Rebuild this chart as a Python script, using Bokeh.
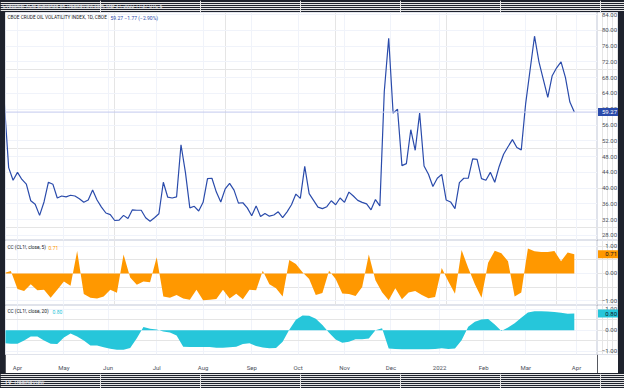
import numpy as np
import pandas as pd
from bokeh.plotting import figure
from bokeh.layouts import column, row
from bokeh.models import (Range1d, FixedTicker, Grid, Label, Span,
                          GlobalInlineStyleSheet)
from bokeh.core.properties import value
from bokeh.embed import file_html
from bokeh.resources import INLINE

# ---------------- data ----------------
SESSION_START = "2021-03-24"
SESSION_END = "2022-04-01"
HOLIDAYS = ["2021-04-02", "2021-05-31", "2021-07-05", "2021-09-06",
            "2021-11-25", "2021-12-24", "2022-01-17", "2022-02-21"]
LAST_DATE = "2022-03-31"
OVX_STEP = 2     # one reading every 2 sessions
CC_STEP = 3      # one reading every 3 sessions

ovx_values = [
    62.0, 45.2, 42.0, 44.0, 42.2, 41.0, 36.8, 35.9, 33.1, 36.5,
    41.5, 41.0, 37.5, 38.0, 37.8, 38.2, 38.0, 37.3, 36.4, 37.0,
    39.5, 37.0, 35.2, 33.7, 33.3, 31.8, 31.9, 33.1, 32.3, 34.5,
    34.4, 34.4, 32.5, 31.6, 32.5, 33.5, 41.5, 37.7, 37.5, 37.8,
    51.0, 44.0, 35.0, 35.4, 34.2, 36.4, 42.4, 42.5, 39.0, 36.5,
    39.8, 41.2, 39.5, 36.2, 36.3, 35.0, 33.0, 35.5, 32.8, 33.6,
    32.9, 33.2, 34.0, 32.5, 34.0, 35.8, 38.5, 37.4, 45.5, 38.6,
    36.9, 35.2, 34.8, 35.3, 36.8, 35.8, 37.5, 36.4, 39.0, 38.0,
    36.9, 36.4, 36.0, 34.5, 37.1, 35.5, 64.5, 78.0, 59.0, 60.0,
    45.7, 46.2, 54.8, 49.6, 59.0, 45.6, 43.5, 40.4, 42.5, 43.5,
    37.0, 36.5, 34.8, 41.4, 42.5, 42.5, 47.4, 47.3, 42.4, 42.0,
    44.0, 41.5, 45.5, 48.6, 50.5, 52.3, 50.3, 49.7, 61.5, 70.0,
    78.5, 72.0, 67.5, 63.0, 68.5, 70.5, 72.0, 68.0, 61.8, 59.27,
]

cc5_values = [
    0.02, 0.09, -0.57, -0.65, -0.40, -0.62, -0.60, -0.90, -0.60, -0.30,
    -0.45, 0.83, -0.76, -0.90, -0.93, -0.85, -0.60, -0.71, 0.70, -0.15,
    -0.42, -0.30, -0.32, 0.60, -0.85, -0.90, -0.80, -0.93, -0.97, -0.60,
    -0.99, -0.97, -0.94, -0.60, -0.93, -0.75, -0.95, -0.60, -0.62, 0.10,
    -0.40, -0.55, -0.85, 0.50, 0.35, 0.05, -0.20, -0.80, -0.72, 0.10,
    -0.20, -0.74, -0.76, -0.83, -0.50, 0.70, -0.25, -0.69, -0.99, -0.55,
    -0.95, -0.70, -0.65, -0.80, -0.92, -0.87, 0.20, -0.30, -0.75, 0.87,
    0.20, -0.40, -0.90, 0.40, 0.84, 0.75, 0.45, -0.85, -0.70, 0.93,
    0.82, 0.80, 0.80, 0.83, 0.45, 0.78, 0.71,
]

cc20_values = [
    -0.63, -0.65, -0.65, -0.50, -0.30, -0.30, -0.50, -0.65, -0.66, -0.35,
    -0.16, -0.30, -0.49, -0.73, -0.74, -0.82, -0.89, -0.94, -0.94, -0.85,
    -0.38, 0.15, 0.07, 0.03, -0.06, -0.11, -0.25, -0.79, -0.81, -0.81,
    -0.81, -0.81, -0.84, -0.84, -0.82, -0.80, -0.66, -0.63, -0.76, -0.83,
    -0.87, -0.85, -0.55, 0.02, 0.50, 0.71, 0.70, 0.55, 0.25, -0.12,
    -0.45, -0.60, -0.55, -0.43, -0.43, -0.40, 0.00, 0.10, -0.88, -0.90,
    -0.91, -0.91, -0.91, -0.91, -0.91, -0.90, -0.87, -0.90, -0.88, -0.48,
    0.17, 0.41, 0.52, 0.54, 0.27, -0.04, 0.13, 0.33, 0.60, 0.85,
    0.91, 0.91, 0.90, 0.88, 0.84, 0.79, 0.80,
]

month_labels = ["Apr", "May", "Jun", "Jul", "Aug", "Sep", "Oct", "Nov",
                "Dec", "2022", "Feb", "Mar", "Apr"]
ovx_ticks = [28, 32, 36, 40, 44, 48, 52, 56, 60, 64, 68, 72, 76, 80, 84]
cc_ticks = [-1.0, 0.0, 1.0]

header_text = "CVecchioFXCtx published on TradingView.com, Mar 31, 2022 11:37 UTC-5"
title_text = "CBOE CRUDE OIL VOLATILITY INDEX, 1D, CBOE"
change_text = "\u22121.77 (\u22122.90%)"
cc5_title = "CC (CL1!, close, 5)"
cc20_title = "CC (CL1!, close, 20)"

# ---------------- calendar (bar index like TradingView) ----------------
sessions = pd.bdate_range(SESSION_START, SESSION_END, freq="C", holidays=HOLIDAYS)
bar_index = np.arange(len(sessions))
data_sessions = sessions[sessions <= pd.Timestamp(LAST_DATE)]
ovx_dates = data_sessions[::OVX_STEP]
cc_dates = data_sessions[::CC_STEP]
pos = {d: i for i, d in enumerate(sessions)}
ovx_x = [pos[d] for d in ovx_dates]
cc_x = [pos[d] for d in cc_dates]
assert len(ovx_x) == len(ovx_values)
assert len(cc_x) == len(cc5_values) == len(cc20_values)

month_ticks = [int(i) for i in bar_index[1:] if sessions[i].month != sessions[i - 1].month]
month_overrides = {t: lab for t, lab in zip(month_ticks, month_labels)}

# ---------------- style ----------------
DARK = "#1e222d"
GRID = "#f0f3fa"
SEP = "#e0e3eb"
AXIS_TXT = "#4c505b"
TXT = "#131722"
BLUE = "#2a4bab"
PRICE_LINE = "#c3c9ee"
ORANGE = "#ff9800"
CYAN = "#26c6da"
FONT = "Roboto"
AX_FS = "6px"
T_FS = "4.75px"
V_FS = "5px"
SCALE_W = 21

x_range = Range1d(0.57, 268.5)


def fmt(v):
    return f"{v:.2f}".replace("-", "\u2212")


def pane(height, y_range, ticks, bottom_axis=False):
    p = figure(width=592, height=height, x_range=x_range, y_range=y_range,
               x_axis_location="below" if bottom_axis else None,
               y_axis_location=None, toolbar_location=None,
               output_backend="svg", min_border_left=0, min_border_right=0,
               min_border_top=0, min_border_bottom=12 if bottom_axis else 0,
               background_fill_color="white", border_fill_color="white",
               outline_line_color=SEP, margin=(0, 0, 0, 5))
    p.add_layout(Grid(dimension=1, ticker=FixedTicker(ticks=ticks),
                      grid_line_color=GRID))
    if bottom_axis:
        xa = p.xaxis[0]
        xa.ticker = FixedTicker(ticks=month_ticks)
        xa.major_label_overrides = month_overrides
        xa.major_label_text_font_size = AX_FS
        xa.major_label_text_color = AXIS_TXT
        xa.major_label_text_font = FONT
        xa.major_label_standoff = 3
        xa.major_tick_line_color = None
        xa.minor_tick_line_color = None
        xa.axis_line_color = None
        p.xgrid[0].ticker = FixedTicker(ticks=month_ticks)
        p.xgrid[0].grid_line_color = GRID
    else:
        p.add_layout(Grid(dimension=0, ticker=FixedTicker(ticks=month_ticks),
                          grid_line_color=GRID))
    return p


def scale(height, y_range, ticks, last, fill, color, bottom_axis=False):
    s = figure(width=SCALE_W, height=height, x_range=Range1d(0, SCALE_W),
               y_range=y_range, x_axis_location=None, y_axis_location=None,
               toolbar_location=None, output_backend="svg",
               min_border_left=0, min_border_right=0, min_border_top=0,
               min_border_bottom=12 if bottom_axis else 0,
               background_fill_color="white", border_fill_color="white",
               outline_line_color=SEP, margin=(0, 6, 0, 0))
    s.text(x=SCALE_W - 1.5, y=ticks, text=[fmt(t) for t in ticks],
           text_font=value(FONT), text_font_size=AX_FS, text_color=AXIS_TXT,
           text_align="right", text_baseline="middle")
    s.rect(x=SCALE_W / 2 + 0.5, y=[last], width=SCALE_W, height=8,
           height_units="screen", fill_color=fill, line_color=None)
    s.text(x=SCALE_W - 1.5, y=[last], text=[fmt(last)],
           text_font=value(FONT), text_font_size=AX_FS, text_color=color,
           text_align="right", text_baseline="middle")
    return s


def pane_title(p, y, parts, size=T_FS):
    for x, text, color in parts:
        p.add_layout(Label(x=x, x_units="screen", y=y, text=text,
                           text_font=FONT, text_font_size=size, text_color=color,
                           text_baseline="middle", text_align="left"))


# header
header = figure(width=624, height=12, x_range=(0, 624), y_range=(0, 12),
                x_axis_location=None, y_axis_location=None, toolbar_location=None,
                output_backend="svg", min_border=0, background_fill_color=DARK,
                border_fill_color=DARK, outline_line_color=None)
header.add_layout(Label(x=2, y=6.3, text=header_text, text_font=FONT,
                        text_font_size="4.9px", text_color="#e6e8ee",
                        text_baseline="middle"))

# main pane
main_y = Range1d(26.73, 84.51)
main = pane(228, main_y, ovx_ticks)
main.add_layout(Span(location=ovx_values[-1], dimension="width",
                     line_color=PRICE_LINE, line_width=1))
main.line(ovx_x, ovx_values, line_color=BLUE, line_width=1.2)
pane_title(main, 83.24, [(2, title_text, TXT)])
pane_title(main, 83.24, [(105, fmt(ovx_values[-1]), BLUE),
                         (119, change_text, BLUE)], size=V_FS)
main_scale = scale(228, main_y, ovx_ticks, ovx_values[-1], BLUE, "white")

# CC 5 pane
cc5_y = Range1d(-1.185, 1.222)
cc5p = pane(65, cc5_y, cc_ticks)
cc5p.varea(x=cc_x, y1=0, y2=cc5_values, fill_color=ORANGE)
pane_title(cc5p, 0.96, [(2, cc5_title, TXT)])
pane_title(cc5p, 0.96, [(43, fmt(cc5_values[-1]), ORANGE)], size=V_FS)
cc5_scale = scale(65, cc5_y, cc_ticks, cc5_values[-1], ORANGE, TXT)

# CC 20 pane with time axis
cc20_y = Range1d(-1.168, 1.19)
cc20p = pane(68, cc20_y, cc_ticks, bottom_axis=True)
cc20p.varea(x=cc_x, y1=0, y2=cc20_values, fill_color=CYAN)
pane_title(cc20p, 0.895, [(2, cc20_title, TXT)])
pane_title(cc20p, 0.895, [(47, fmt(cc20_values[-1]), CYAN)], size=V_FS)
cc20_scale = scale(68, cc20_y, cc_ticks, cc20_values[-1], CYAN, TXT,
                   bottom_axis=True)

# footer
footer = figure(width=624, height=15, x_range=(0, 624), y_range=(0, 15),
                x_axis_location=None, y_axis_location=None, toolbar_location=None,
                output_backend="svg", min_border=0, background_fill_color=DARK,
                border_fill_color=DARK, outline_line_color=None)
footer.add_layout(Label(x=4, y=6.3, text="TV", text_font=FONT,
                        text_font_size="5.5px", text_font_style="bold",
                        text_color="#e6e8ee", text_baseline="middle"))
footer.add_layout(Label(x=13, y=6.3, text="TradingView", text_font=FONT,
                        text_font_size="5.6px", text_color="#e6e8ee",
                        text_baseline="middle"))

layout = column(header,
                row(main, main_scale, spacing=0),
                row(cc5p, cc5_scale, spacing=0),
                row(cc20p, cc20_scale, spacing=0),
                footer, spacing=0,
                styles={"background-color": DARK},
                stylesheets=[GlobalInlineStyleSheet(
                    css="html, body { margin: 0; padding: 0; background: #1e222d; }")])

open("out.html", "w").write(file_html(layout, INLINE))
